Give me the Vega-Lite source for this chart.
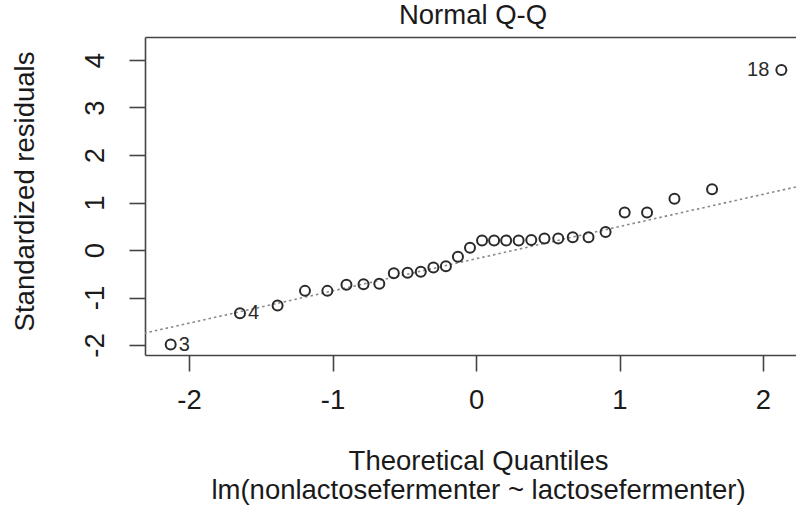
{
  "$schema": "https://vega.github.io/schema/vega-lite/v6.json",
  "width": 651,
  "height": 318,
  "autosize": "none",
  "padding": {"left": 145, "top": 37, "right": 0, "bottom": 150},
  "background": "white",
  "title": {"text": "Normal Q-Q", "fontSize": 27.5, "fontWeight": "normal", "color": "#1a1a1a", "anchor": "middle", "baseline": "alphabetic", "offset": 10, "dx": 2.5, "dy": 24, "frame": "group", "font": "Liberation Sans"},
  "datasets": {
    "pts": [
      {"q": -2.128, "r": -1.99, "label": "3"},
      {"q": -1.645, "r": -1.33, "label": "4"},
      {"q": -1.383, "r": -1.17, "label": ""},
      {"q": -1.192, "r": -0.86, "label": ""},
      {"q": -1.036, "r": -0.86, "label": ""},
      {"q": -0.903, "r": -0.73, "label": ""},
      {"q": -0.784, "r": -0.72, "label": ""},
      {"q": -0.674, "r": -0.71, "label": ""},
      {"q": -0.573, "r": -0.49, "label": ""},
      {"q": -0.477, "r": -0.48, "label": ""},
      {"q": -0.385, "r": -0.46, "label": ""},
      {"q": -0.297, "r": -0.37, "label": ""},
      {"q": -0.21, "r": -0.34, "label": ""},
      {"q": -0.126, "r": -0.14, "label": ""},
      {"q": -0.042, "r": 0.05, "label": ""},
      {"q": 0.042, "r": 0.2, "label": ""},
      {"q": 0.126, "r": 0.2, "label": ""},
      {"q": 0.21, "r": 0.2, "label": ""},
      {"q": 0.297, "r": 0.2, "label": ""},
      {"q": 0.385, "r": 0.21, "label": ""},
      {"q": 0.477, "r": 0.24, "label": ""},
      {"q": 0.573, "r": 0.24, "label": ""},
      {"q": 0.674, "r": 0.27, "label": ""},
      {"q": 0.784, "r": 0.27, "label": ""},
      {"q": 0.903, "r": 0.38, "label": ""},
      {"q": 1.036, "r": 0.79, "label": ""},
      {"q": 1.192, "r": 0.79, "label": ""},
      {"q": 1.383, "r": 1.08, "label": ""},
      {"q": 1.645, "r": 1.28, "label": ""},
      {"q": 2.128, "r": 3.79, "label": "18"}
    ],
    "ref": [
      {"q": -2.5, "r": -1.879},
      {"q": 2.5, "r": 1.511}
    ]
  },
  "resolve": {"axis": {"x": "independent"}},
  "layer": [
    {
      "data": {"name": "ref"},
      "mark": {"type": "line", "strokeDash": [2.5, 3], "color": "#888", "strokeWidth": 1.6, "clip": true},
      "encoding": {
        "x": {"field": "q", "type": "quantitative", "scale": {"domain": [-2.307, 2.23], "nice": false, "zero": false},
          "title": ["Theoretical Quantiles", "lm(nonlactosefermenter ~ lactosefermenter)"],
          "axis": {"values": [-2, -1, 0, 1, 2], "labelExpr": "toString(datum.value)", "labelPadding": 15, "labelFlush": false, "labelOverlap": false, "titleX": 333, "titleY": 114, "titleAlign": "center", "titleBaseline": "alphabetic", "titleLineHeight": 29}},
        "y": {"field": "r", "type": "quantitative", "scale": {"domain": [-2.21, 4.484], "nice": false, "zero": false},
          "title": "Standardized residuals",
          "axis": {"values": [-2, -1, 0, 1, 2, 3, 4], "labelExpr": "toString(datum.value)", "labelAngle": 270, "labelAlign": "center", "labelBaseline": "alphabetic", "labelPadding": 26, "labelFlush": false, "labelOverlap": false, "titleAngle": 270, "titleX": -112, "titleY": 154, "titleAlign": "center", "titleBaseline": "alphabetic"}}
      }
    },
    {
      "data": {"name": "pts"},
      "mark": {"type": "point", "shape": "circle", "filled": false, "size": 100, "strokeWidth": 2, "color": "#2a2a2a", "opacity": 1},
      "encoding": {
        "x": {"field": "q", "type": "quantitative", "title": null, "axis": {"orient": "top", "labels": false, "ticks": false, "title": null}},
        "y": {"field": "r", "type": "quantitative", "title": "Standardized residuals"}
      }
    },
    {
      "data": {"name": "pts"},
      "transform": [{"filter": "datum.label == '3' || datum.label == '4'"}],
      "mark": {"type": "text", "align": "left", "baseline": "middle", "dx": 8, "fontSize": 20, "color": "#2a2a2a", "font": "Liberation Sans"},
      "encoding": {
        "x": {"field": "q", "type": "quantitative", "axis": null},
        "y": {"field": "r", "type": "quantitative", "title": "Standardized residuals"},
        "text": {"field": "label"}
      }
    },
    {
      "data": {"name": "pts"},
      "transform": [{"filter": "datum.label == '18'"}],
      "mark": {"type": "text", "align": "right", "baseline": "middle", "dx": -12, "fontSize": 20, "color": "#2a2a2a", "font": "Liberation Sans"},
      "encoding": {
        "x": {"field": "q", "type": "quantitative", "axis": null},
        "y": {"field": "r", "type": "quantitative", "title": "Standardized residuals"},
        "text": {"field": "label"}
      }
    }
  ],
  "config": {
    "view": {"stroke": null},
    "font": "Liberation Sans",
    "axis": {"domainColor": "#444", "domainWidth": 1.6, "tickColor": "#444", "tickWidth": 1.6, "tickSize": 16, "labelFontSize": 27.5, "labelColor": "#1a1a1a", "titleFontSize": 27.5, "titleColor": "#1a1a1a", "titleFontWeight": "normal", "grid": false, "labelFont": "Liberation Sans", "titleFont": "Liberation Sans"}
  }
}
